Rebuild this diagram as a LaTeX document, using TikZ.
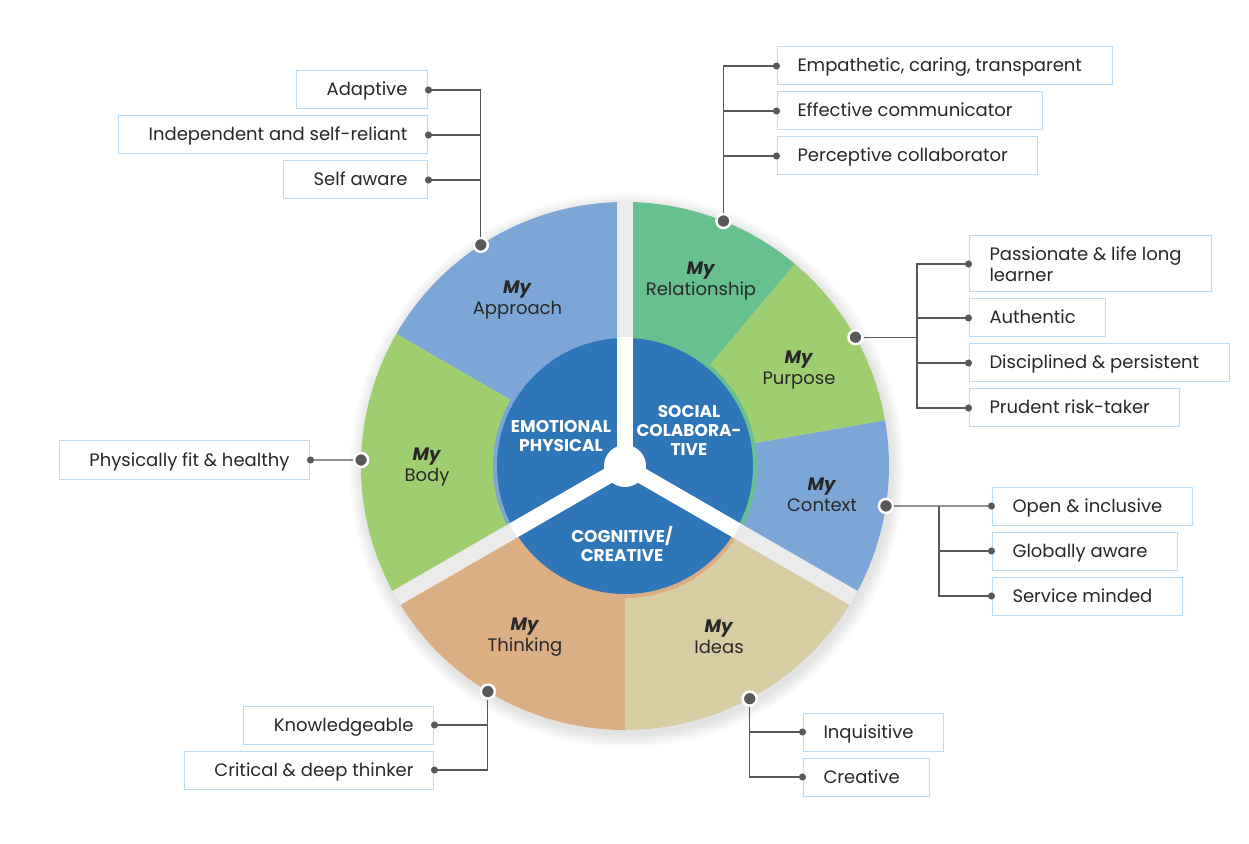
\documentclass[tikz,border=0pt]{standalone}
\usepackage{fontspec}
\setmainfont{Poppins}
\usepackage{xcolor}
\definecolor{Wheel-blue}{RGB}{124, 166, 214}
\definecolor{Wheel-green}{RGB}{158, 206, 112}
\definecolor{Wheel-teal}{RGB}{104, 192, 142}
\definecolor{Wheel-tan}{RGB}{219, 175, 131}
\definecolor{Wheel-beige}{RGB}{216, 204, 163}
\definecolor{Core-blue}{RGB}{47, 118, 185}
\definecolor{Gap-gray}{RGB}{235, 235, 235}
\definecolor{Tag-border}{RGB}{185, 220, 248}
\definecolor{Line-gray}{RGB}{88, 88, 88}
\definecolor{Text-dark}{RGB}{40, 40, 40}
\usepackage{tikz}
\usetikzlibrary{arrows.meta,positioning,calc}

\begin{document}
\begin{tikzpicture} [ % 先定义样式
        x=1pt, y=1pt, font=\fontsize{18}{21.5}\selectfont,
        tag/.style = {draw=Tag-border, line width=1pt, fill=white, text=Text-dark, inner xsep=20pt, inner ysep=0pt, minimum height=38pt, text height=16pt, text depth=4pt},
        tag-left/.style = {tag, anchor=east, execute at begin node=\hspace*{10pt}},
        tag-right/.style = {tag, anchor=west, execute at end node=\hspace*{10pt}},
        sector-label/.style = {align=center, text=Text-dark},
        core-label/.style = {align=center, text=white, font=\fontsize{17}{19}\selectfont\bfseries},
        point-hub/.style = {circle, fill=Line-gray, draw=white, line width=2.5pt, inner sep=0pt, minimum size=14pt},
        plain-link/.style = {draw=Line-gray, line width=1.2pt},
        link/.style = {plain-link, -{Circle[length=7pt]}, shorten >=-3pt}
    ]

    % 宏
    \pgfmathsetmacro{\R}{264}; % 外圆半径
    \pgfmathsetmacro{\r}{128}; % 内圆半径
    \pgfmathsetmacro{\g}{8}; % 缝宽的一半

    \useasboundingbox (-625,-377) rectangle (624,466);

    % 阴影
    \foreach \s in {1,...,14}
        \fill[black, opacity=0.006] (2,-4) circle (\R+\s);

    % 外圈扇形
    \fill[Wheel-blue] (0,0) -- (90:\R) arc[start angle=90, end angle=150, radius=\R] -- cycle;
    \fill[Wheel-green] (0,0) -- (150:\R) arc[start angle=150, end angle=210, radius=\R] -- cycle;
    \fill[Wheel-tan] (0,0) -- (210:\R) arc[start angle=210, end angle=270, radius=\R] -- cycle;
    \fill[Wheel-beige] (0,0) -- (270:\R) arc[start angle=270, end angle=330, radius=\R] -- cycle;
    \fill[Wheel-blue] (0,0) -- (-30:\R) arc[start angle=-30, end angle=10, radius=\R] -- cycle;
    \fill[Wheel-green] (0,0) -- (10:\R) arc[start angle=10, end angle=50, radius=\R] -- cycle;
    \fill[Wheel-teal] (0,0) -- (50:\R) arc[start angle=50, end angle=90, radius=\R] -- cycle;

    % 内圆边
    \fill[Wheel-blue] (0,0) -- (90:\r+4) arc[start angle=90, end angle=210, radius=\r+4] -- cycle;
    \fill[Wheel-tan] (0,0) -- (210:\r+4) arc[start angle=210, end angle=330, radius=\r+4] -- cycle;
    \fill[Wheel-teal] (0,0) -- (-30:\r+4) arc[start angle=-30, end angle=90, radius=\r+4] -- cycle;

    % 缝
    \begin{scope}
        \clip (0,0) circle (\R);
        \foreach \a in {90,210,330}
            \fill[Gap-gray, rotate=\a] (0,-\g) rectangle (\R+2,\g);
    \end{scope}

    % 内圆
    \fill[Core-blue] (0,0) circle (\r);
    \foreach \a in {90,210,330}
        \fill[white, rotate=\a] (0,-\g) rectangle (\r+1,\g);
    \fill[white] (0,0) circle (21);

    % 文字
    \node [core-label] (cEmo) at (-64,29.5) {EMOTIONAL\\PHYSICAL};
    \node [core-label] (cSocial) at (64,35.5) {SOCIAL\\COLABORA-\\TIVE};
    \node [core-label] (cCog) at (-3,-78) {COGNITIVE/\\CREATIVE};

    \node [sector-label] (lApproach) at (-107.5,166) {\textbf{\textit{My}}\\Approach};
    \node [sector-label] (lRelation) at (76,185) {\textbf{\textit{My}}\\Relationship};
    \node [sector-label] (lPurpose) at (174,96) {\textbf{\textit{My}}\\Purpose};
    \node [sector-label] (lBody) at (-198,-1) {\textbf{\textit{My}}\\Body};
    \node [sector-label] (lContext) at (197,-29) {\textbf{\textit{My}}\\Context};
    \node [sector-label] (lThinking) at (-100,-171) {\textbf{\textit{My}}\\Thinking};
    \node [sector-label] (lIdeas) at (94,-171) {\textbf{\textit{My}}\\Ideas};

    % 圆上的点
    \node [point-hub] (hApproach) at (123.1:\R) {};
    \node [point-hub] (hRelation) at (68.1:\R) {};
    \node [point-hub] (hPurpose) at (29.2:\R) {};
    \node [point-hub] (hBody) at (178.7:\R) {};
    \node [point-hub] (hContext) at (-8.7:\R) {};
    \node [point-hub] (hThinking) at (238.7:\R) {};
    \node [point-hub] (hIdeas) at (-61.8:\R) {};

    % 左上
    \node [tag-left] (tAdaptive) at (-197,376) {Adaptive};
    \node [tag-left] (tIndependent) at (-197,331) {Independent and self-reliant};
    \node [tag-left] (tSelfaware) at (-197,286) {Self aware};
    \draw [link] (hApproach) |- (tAdaptive.east);
    \draw [link] (hApproach) |- (tIndependent.east);
    \draw [link] (hApproach) |- (tSelfaware.east);

    % 右上
    \node [tag-right] (tEmpathetic) at (152,400) {Empathetic, caring, transparent};
    \node [tag-right] (tEffective) at (152,355) {Effective communicator};
    \node [tag-right] (tPerceptive) at (152,310) {Perceptive collaborator};
    \draw [link] (hRelation) |- (tEmpathetic.west);
    \draw [link] (hRelation) |- (tEffective.west);
    \draw [link] (hRelation) |- (tPerceptive.west);

    % 右
    \node [tag-right, align=left, text height={}, text depth={}, minimum height=56pt] (tPassionate) at (344,202) {Passionate \& life long\\learner};
    \node [tag-right] (tAuthentic) at (344,148) {Authentic};
    \node [tag-right] (tDisciplined) at (344,103) {Disciplined \& persistent};
    \node [tag-right] (tPrudent) at (344,58) {Prudent risk-taker};
    \coordinate (jPurpose) at (292,0 |- hPurpose);
    \draw [plain-link] (hPurpose) -- (jPurpose);
    \draw [link] (jPurpose) |- (tPassionate.west);
    \draw [link] (jPurpose) |- (tAuthentic.west);
    \draw [link] (jPurpose) |- (tDisciplined.west);
    \draw [link] (jPurpose) |- (tPrudent.west);

    % 右下
    \node [tag-right] (tOpen) at (367,-40) {Open \& inclusive};
    \node [tag-right] (tGlobal) at (367,-85) {Globally aware};
    \node [tag-right] (tService) at (367,-130) {Service minded};
    \coordinate (jContext) at (314,0 |- hContext);
    \draw [link] (hContext) -- (tOpen.west);
    \draw [link] (jContext) |- (tGlobal.west);
    \draw [link] (jContext) |- (tService.west);

    % 左
    \node [tag-left] (tPhysical) at (-315,6) {Physically fit \& healthy};
    \draw [link] (hBody) -- (tPhysical.east);

    % 下
    \node [tag-left] (tKnowledge) at (-191,-259) {Knowledgeable};
    \node [tag-left] (tCritical) at (-191,-304) {Critical \& deep thinker};
    \draw [link] (hThinking) |- (tKnowledge.east);
    \draw [link] (hThinking) |- (tCritical.east);

    \node [tag-right] (tInquisitive) at (178,-266) {Inquisitive};
    \node [tag-right] (tCreative) at (178,-311) {Creative};
    \draw [link] (hIdeas) |- (tInquisitive.west);
    \draw [link] (hIdeas) |- (tCreative.west);

\end{tikzpicture}
\end{document}
